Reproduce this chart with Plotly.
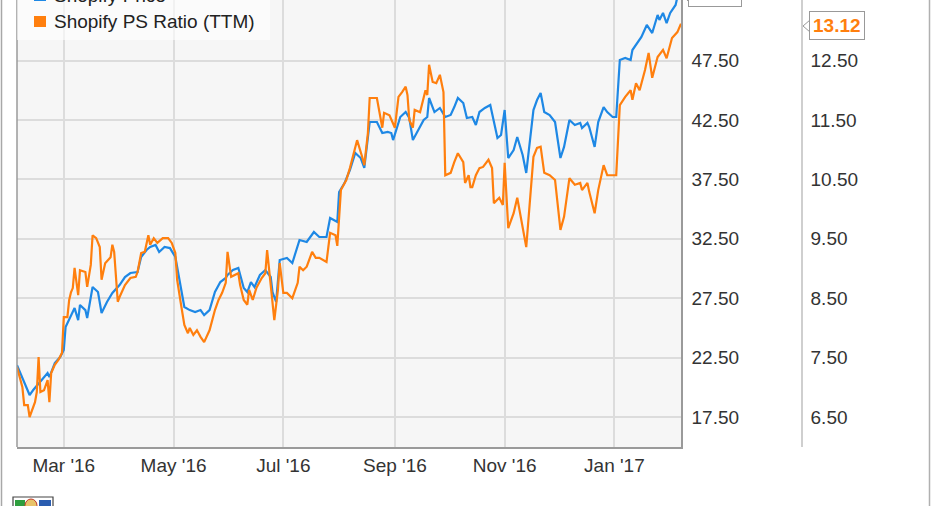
import plotly.graph_objects as go

# ---------------- data ----------------
price_dates = [
    "2016-02-04", "2016-02-07", "2016-02-11", "2016-02-13", "2016-02-17", "2016-02-20", "2016-02-21", "2016-02-22",
    "2016-02-25", "2016-02-28", "2016-03-01", "2016-03-02", "2016-03-04", "2016-03-07", "2016-03-09", "2016-03-10",
    "2016-03-13", "2016-03-14", "2016-03-17", "2016-03-20", "2016-03-22", "2016-03-25", "2016-03-28", "2016-04-01",
    "2016-04-04", "2016-04-07", "2016-04-11", "2016-04-13", "2016-04-16", "2016-04-18", "2016-04-21", "2016-04-23",
    "2016-04-26", "2016-04-29", "2016-05-02", "2016-05-05", "2016-05-07", "2016-05-10", "2016-05-13", "2016-05-16",
    "2016-05-18", "2016-05-21", "2016-05-24", "2016-05-27", "2016-05-30", "2016-05-31", "2016-06-03", "2016-06-06",
    "2016-06-09", "2016-06-11", "2016-06-13", "2016-06-15", "2016-06-18", "2016-06-21", "2016-06-24", "2016-06-25",
    "2016-06-27", "2016-06-29", "2016-07-03", "2016-07-06", "2016-07-10", "2016-07-14", "2016-07-18", "2016-07-21",
    "2016-07-25", "2016-07-27", "2016-07-31", "2016-08-01", "2016-08-04", "2016-08-07", "2016-08-10", "2016-08-13",
    "2016-08-15", "2016-08-18", "2016-08-22", "2016-08-25", "2016-08-28", "2016-08-30", "2016-08-31", "2016-09-04",
    "2016-09-07", "2016-09-09", "2016-09-11", "2016-09-14", "2016-09-17", "2016-09-19", "2016-09-20", "2016-09-23",
    "2016-09-26", "2016-09-29", "2016-10-02", "2016-10-04", "2016-10-06", "2016-10-09", "2016-10-11", "2016-10-14",
    "2016-10-16", "2016-10-18", "2016-10-21", "2016-10-24", "2016-10-25", "2016-10-28", "2016-10-30", "2016-11-01",
    "2016-11-03", "2016-11-06", "2016-11-08", "2016-11-11", "2016-11-13", "2016-11-17", "2016-11-19", "2016-11-21",
    "2016-11-23", "2016-11-26", "2016-11-29", "2016-12-02", "2016-12-04", "2016-12-07", "2016-12-10", "2016-12-13",
    "2016-12-14", "2016-12-17", "2016-12-18", "2016-12-21", "2016-12-23", "2016-12-26", "2016-12-28", "2016-12-31",
    "2017-01-02", "2017-01-04", "2017-01-07", "2017-01-10", "2017-01-11", "2017-01-13", "2017-01-16", "2017-01-19",
    "2017-01-22", "2017-01-25", "2017-01-26", "2017-01-28", "2017-01-30", "2017-02-01", "2017-02-04", "2017-02-05",
    "2017-02-07",
]
price_values = [
    21.87, 20.78, 19.35, 19.77, 20.44, 21.03, 21.20, 20.86,
    22.04, 22.55, 23.14, 25.07, 25.66, 26.67, 25.66, 26.93,
    26.50, 25.83, 28.44, 28.02, 26.25, 27.18, 27.94, 28.61,
    29.28, 29.62, 29.70, 30.97, 31.56, 31.81, 31.98, 31.39,
    31.81, 31.72, 30.97, 28.44, 26.76, 26.50, 26.34, 26.50,
    26.08, 26.50, 28.02, 28.86, 29.20, 29.45, 29.87, 30.04,
    28.36, 28.02, 28.86, 28.44, 29.45, 29.87, 29.28, 28.02,
    27.18, 30.71, 30.88, 30.46, 32.40, 32.23, 33.07, 32.65,
    32.65, 34.25, 33.91, 36.44, 37.19, 38.29, 39.72, 39.30,
    38.46, 42.33, 42.33, 41.40, 41.49, 41.40, 40.81, 42.75,
    43.17, 42.67, 40.81, 41.66, 42.50, 42.75, 44.35, 43.17,
    43.51, 42.75, 42.92, 43.59, 44.35, 43.93, 42.67, 42.75,
    42.08, 43.17, 43.51, 43.76, 43.09, 40.98, 41.24, 43.34,
    39.30, 39.97, 41.07, 39.55, 38.04, 43.34, 44.18, 44.77,
    43.17, 42.92, 42.33, 39.30, 40.23, 42.50, 42.08, 42.25,
    41.82, 42.25, 41.91, 40.23, 42.33, 43.59, 43.17, 42.75,
    42.75, 47.55, 47.72, 47.55, 48.39, 48.81, 49.49, 50.50,
    49.82, 51.34, 50.92, 51.51, 50.66, 51.51, 52.18, 52.85,
    55.14,
]

ps_dates = [
    "2016-02-04", "2016-02-07", "2016-02-08", "2016-02-10", "2016-02-11", "2016-02-12", "2016-02-14", "2016-02-15",
    "2016-02-16", "2016-02-17", "2016-02-19", "2016-02-21", "2016-02-22", "2016-02-23", "2016-02-25", "2016-02-27",
    "2016-02-29", "2016-03-01", "2016-03-03", "2016-03-04", "2016-03-05", "2016-03-06", "2016-03-07", "2016-03-09",
    "2016-03-10", "2016-03-13", "2016-03-14", "2016-03-16", "2016-03-17", "2016-03-19", "2016-03-21", "2016-03-22",
    "2016-03-24", "2016-03-27", "2016-03-28", "2016-03-29", "2016-03-31", "2016-04-01", "2016-04-04", "2016-04-07",
    "2016-04-10", "2016-04-11", "2016-04-13", "2016-04-15", "2016-04-17", "2016-04-18", "2016-04-20", "2016-04-22",
    "2016-04-25", "2016-04-28", "2016-04-30", "2016-05-02", "2016-05-03", "2016-05-05", "2016-05-07", "2016-05-09",
    "2016-05-10", "2016-05-12", "2016-05-14", "2016-05-16", "2016-05-18", "2016-05-21", "2016-05-24", "2016-05-26",
    "2016-05-28", "2016-05-30", "2016-05-31", "2016-06-02", "2016-06-04", "2016-06-06", "2016-06-07", "2016-06-09",
    "2016-06-11", "2016-06-12", "2016-06-14", "2016-06-16", "2016-06-19", "2016-06-21", "2016-06-22", "2016-06-24",
    "2016-06-25", "2016-06-26", "2016-06-28", "2016-06-29", "2016-07-01", "2016-07-03", "2016-07-06", "2016-07-09",
    "2016-07-10", "2016-07-12", "2016-07-14", "2016-07-17", "2016-07-19", "2016-07-21", "2016-07-25", "2016-07-27",
    "2016-07-30", "2016-07-31", "2016-08-02", "2016-08-05", "2016-08-07", "2016-08-09", "2016-08-11", "2016-08-14",
    "2016-08-15", "2016-08-17", "2016-08-18", "2016-08-22", "2016-08-24", "2016-08-25", "2016-08-26", "2016-08-29",
    "2016-09-01", "2016-09-03", "2016-09-05", "2016-09-07", "2016-09-08", "2016-09-09", "2016-09-11", "2016-09-12",
    "2016-09-15", "2016-09-18", "2016-09-19", "2016-09-20", "2016-09-22", "2016-09-24", "2016-09-26", "2016-09-28",
    "2016-09-29", "2016-10-02", "2016-10-04", "2016-10-06", "2016-10-09", "2016-10-10", "2016-10-12", "2016-10-13",
    "2016-10-14", "2016-10-16", "2016-10-18", "2016-10-20", "2016-10-23", "2016-10-25", "2016-10-26", "2016-10-29",
    "2016-10-31", "2016-11-01", "2016-11-03", "2016-11-06", "2016-11-08", "2016-11-11", "2016-11-13", "2016-11-17",
    "2016-11-19", "2016-11-21", "2016-11-23", "2016-11-26", "2016-11-29", "2016-12-02", "2016-12-04", "2016-12-07",
    "2016-12-10", "2016-12-13", "2016-12-14", "2016-12-17", "2016-12-18", "2016-12-21", "2016-12-23", "2016-12-26",
    "2016-12-28", "2016-12-31", "2017-01-02", "2017-01-04", "2017-01-07", "2017-01-10", "2017-01-11", "2017-01-13",
    "2017-01-15", "2017-01-18", "2017-01-20", "2017-01-22", "2017-01-25", "2017-01-28", "2017-01-30", "2017-02-02",
    "2017-02-05", "2017-02-07",
]
ps_values = [
    7.34, 7.00, 6.70, 6.70, 6.50, 6.58, 6.75, 6.92,
    7.51, 6.92, 6.95, 7.12, 6.75, 7.24, 7.38, 7.46,
    7.58, 8.18, 8.18, 8.47, 8.60, 8.67, 9.01, 8.55,
    8.97, 8.94, 8.69, 9.06, 9.56, 9.51, 9.36, 8.81,
    9.09, 9.19, 9.40, 9.28, 8.44, 8.52, 8.72, 8.84,
    8.86, 8.94, 9.26, 9.28, 9.56, 9.40, 9.51, 9.43,
    9.51, 9.51, 9.43, 9.26, 8.81, 8.42, 8.05, 7.91,
    8.00, 7.88, 7.96, 7.85, 7.76, 7.96, 8.30, 8.47,
    8.59, 8.76, 9.28, 8.86, 8.89, 8.92, 8.72, 8.47,
    8.39, 8.64, 8.47, 8.67, 8.84, 8.92, 9.31, 8.76,
    8.44, 8.13, 8.64, 9.09, 8.59, 8.59, 8.50, 8.76,
    9.03, 8.97, 9.03, 9.28, 9.18, 9.18, 9.11, 9.60,
    9.56, 9.38, 10.32, 10.49, 10.69, 10.91, 11.16, 10.86,
    10.74, 11.28, 11.87, 11.87, 11.55, 11.37, 11.62, 11.58,
    11.37, 11.89, 11.97, 12.06, 11.92, 11.50, 11.37, 11.67,
    11.63, 12.00, 11.92, 12.43, 12.14, 12.12, 12.26, 11.97,
    10.57, 10.61, 10.79, 10.94, 10.79, 10.44, 10.57, 10.37,
    10.37, 10.57, 10.69, 10.71, 10.83, 10.69, 10.10, 10.19,
    10.07, 10.78, 9.68, 9.93, 10.19, 9.65, 9.36, 10.88,
    11.03, 11.05, 10.61, 10.57, 10.49, 9.65, 9.87, 10.52,
    10.41, 10.44, 10.32, 10.44, 10.29, 9.93, 10.32, 10.74,
    10.57, 10.57, 10.57, 11.75, 11.89, 12.00, 11.84, 12.12,
    12.00, 12.34, 12.63, 12.21, 12.56, 12.68, 12.54, 12.88,
    12.98, 13.12,
]

x_tick_dates = ["2016-03-01", "2016-05-01", "2016-07-01", "2016-09-01", "2016-11-01", "2017-01-01"]
x_tick_labels = ["Mar '16", "May '16", "Jul '16", "Sep '16", "Nov '16", "Jan '17"]
price_ticks = [17.5, 22.5, 27.5, 32.5, 37.5, 42.5, 47.5]
ps_ticks = [6.5, 7.5, 8.5, 9.5, 10.5, 11.5, 12.5, 13.5]
series_names = ["Shopify Price", "Shopify PS Ratio (TTM)"]

# ---------------- styling / layout ----------------
BLUE = "#1e88e5"
ORANGE = "#ff7f0e"
W, H = 931, 506
ML, MB = 17, 59
PW = W - ML
PH = H - MB
FS = 19


def px(x):
    return (x - ML) / PW


def py(y):
    return (PH - y) / PH


FONT = "Liberation Sans, Arial, sans-serif"

fig = go.Figure()
fig.add_trace(go.Scatter(x=price_dates, y=price_values, mode="lines", name=series_names[0],
                         line=dict(color=BLUE, width=2.2), yaxis="y", showlegend=False))
fig.add_trace(go.Scatter(x=ps_dates, y=ps_values, mode="lines", name=series_names[1],
                         line=dict(color=ORANGE, width=2.2), yaxis="y2", showlegend=False))

fig.update_layout(
    width=W, height=H,
    margin=dict(l=ML, r=0, t=0, b=MB, autoexpand=False),
    paper_bgcolor="white",
    plot_bgcolor="#f6f6f6",
    font=dict(family=FONT, size=FS, color="#333"),
    xaxis=dict(
        domain=[0, px(681)],
        range=["2016-02-04", "2017-02-07"],
        tickvals=x_tick_dates, ticktext=x_tick_labels,
        showgrid=True, gridcolor="#dcdcdc", gridwidth=1.5,
        showline=True, linecolor="#9a9a9a", linewidth=1.5,
        ticks="", ticklabelstandoff=0, zeroline=False,
        tickfont=dict(size=FS, color="#333"),
    ),
    yaxis=dict(
        range=[14.975, 52.6], side="right", anchor="x",
        tickvals=price_ticks, ticktext=[f"{v:.2f}" for v in price_ticks],
        showgrid=True, gridcolor="#dcdcdc", gridwidth=1.5,
        showline=True, linecolor="#9a9a9a", linewidth=1.5,
        ticks="", ticklabelstandoff=5, zeroline=False,
        tickfont=dict(size=FS, color="#333"),
    ),
    yaxis2=dict(
        range=[5.995, 13.52], side="right", anchor="free", overlaying="y",
        position=px(802),
        tickvals=ps_ticks, ticktext=[f"{v:.2f}" for v in ps_ticks],
        showgrid=False, showline=True, linecolor="#cfcfcf", linewidth=1.5,
        ticks="", ticklabelstandoff=4, zeroline=False,
        tickfont=dict(size=FS, color="#333"),
    ),
)

shapes = []
# left frame line of the plot
shapes.append(dict(type="line", xref="paper", yref="paper", x0=0, x1=0, y0=0, y1=1,
                   line=dict(color="#9a9a9a", width=1.5)))
# outer borders of the image
shapes.append(dict(type="line", xref="paper", yref="paper", x0=px(1.5), x1=px(1.5), y0=py(510), y1=py(-5),
                   line=dict(color="#a8a8a8", width=1.5)))
shapes.append(dict(type="line", xref="paper", yref="paper", x0=px(929.5), x1=px(929.5), y0=py(510), y1=py(-5),
                   line=dict(color="#b0b0b0", width=1.5)))
# legend box
shapes.append(dict(type="rect", xref="paper", yref="paper", x0=px(17), x1=px(270), y0=py(40), y1=py(-40),
                   fillcolor="rgba(255,255,255,0.6)", line=dict(width=0), layer="above"))
shapes.append(dict(type="rect", xref="paper", yref="paper", x0=px(34), x1=px(46), y0=py(1), y1=py(-11),
                   fillcolor=BLUE, line=dict(width=0), layer="above"))
shapes.append(dict(type="rect", xref="paper", yref="paper", x0=px(34), x1=px(46), y0=py(27), y1=py(16),
                   fillcolor=ORANGE, line=dict(width=0), layer="above"))
# pointers of the last-value labels
shapes.append(dict(type="path", xref="paper", yref="paper",
                   path=f"M {px(810)} {py(20)} L {px(803)} {py(26)} L {px(810)} {py(32)} Z",
                   fillcolor="white", line=dict(color="#999", width=1), layer="above"))
shapes.append(dict(type="path", xref="paper", yref="paper",
                   path=f"M {px(689)} {py(-10)} L {px(683)} {py(-4)} L {px(689)} {py(2)} Z",
                   fillcolor="white", line=dict(color="#999", width=1), layer="above"))
# small badge at the bottom-left corner (cropped)
shapes.append(dict(type="rect", xref="paper", yref="paper", x0=px(13), x1=px(53), y0=py(512), y1=py(497),
                   fillcolor="#ffffff", line=dict(color="#444", width=1.2)))
shapes.append(dict(type="rect", xref="paper", yref="paper", x0=px(15), x1=px(25), y0=py(512), y1=py(500),
                   fillcolor="#2e9e3e", line=dict(width=0)))
shapes.append(dict(type="circle", xref="paper", yref="paper", x0=px(25), x1=px(37), y0=py(512), y1=py(499),
                   fillcolor="#e8c36a", line=dict(color="#c0392b", width=1)))
shapes.append(dict(type="rect", xref="paper", yref="paper", x0=px(39), x1=px(51), y0=py(512), y1=py(500),
                   fillcolor="#2a5db0", line=dict(width=0)))
fig.update_layout(shapes=shapes)

annotations = [
    dict(xref="paper", yref="paper", x=px(52), y=py(-5), text=series_names[0], showarrow=False,
         xanchor="left", yanchor="middle", font=dict(size=FS, color="#222")),
    dict(xref="paper", yref="paper", x=px(52), y=py(22), text=series_names[1], showarrow=False,
         xanchor="left", yanchor="middle", font=dict(size=FS, color="#222")),
    dict(xref="paper", yref="paper", x=px(809), y=py(26), text=f"<b>{ps_values[-1]:.2f}</b>", showarrow=False,
         xanchor="left", yanchor="middle", font=dict(size=FS, color=ORANGE),
         bgcolor="white", bordercolor="#999", borderwidth=1, borderpad=3),
    dict(xref="paper", yref="paper", x=px(688), y=py(7), text=f"<b>{price_values[-1]:.2f}</b>", showarrow=False,
         xanchor="left", yanchor="bottom", font=dict(size=FS, color=BLUE),
         bgcolor="white", bordercolor="#999", borderwidth=1, borderpad=2),
]
fig.update_layout(annotations=annotations)

fig.write_html("out.html", config={"displayModeBar": False},
               post_script="document.body.style.margin='0px';")
